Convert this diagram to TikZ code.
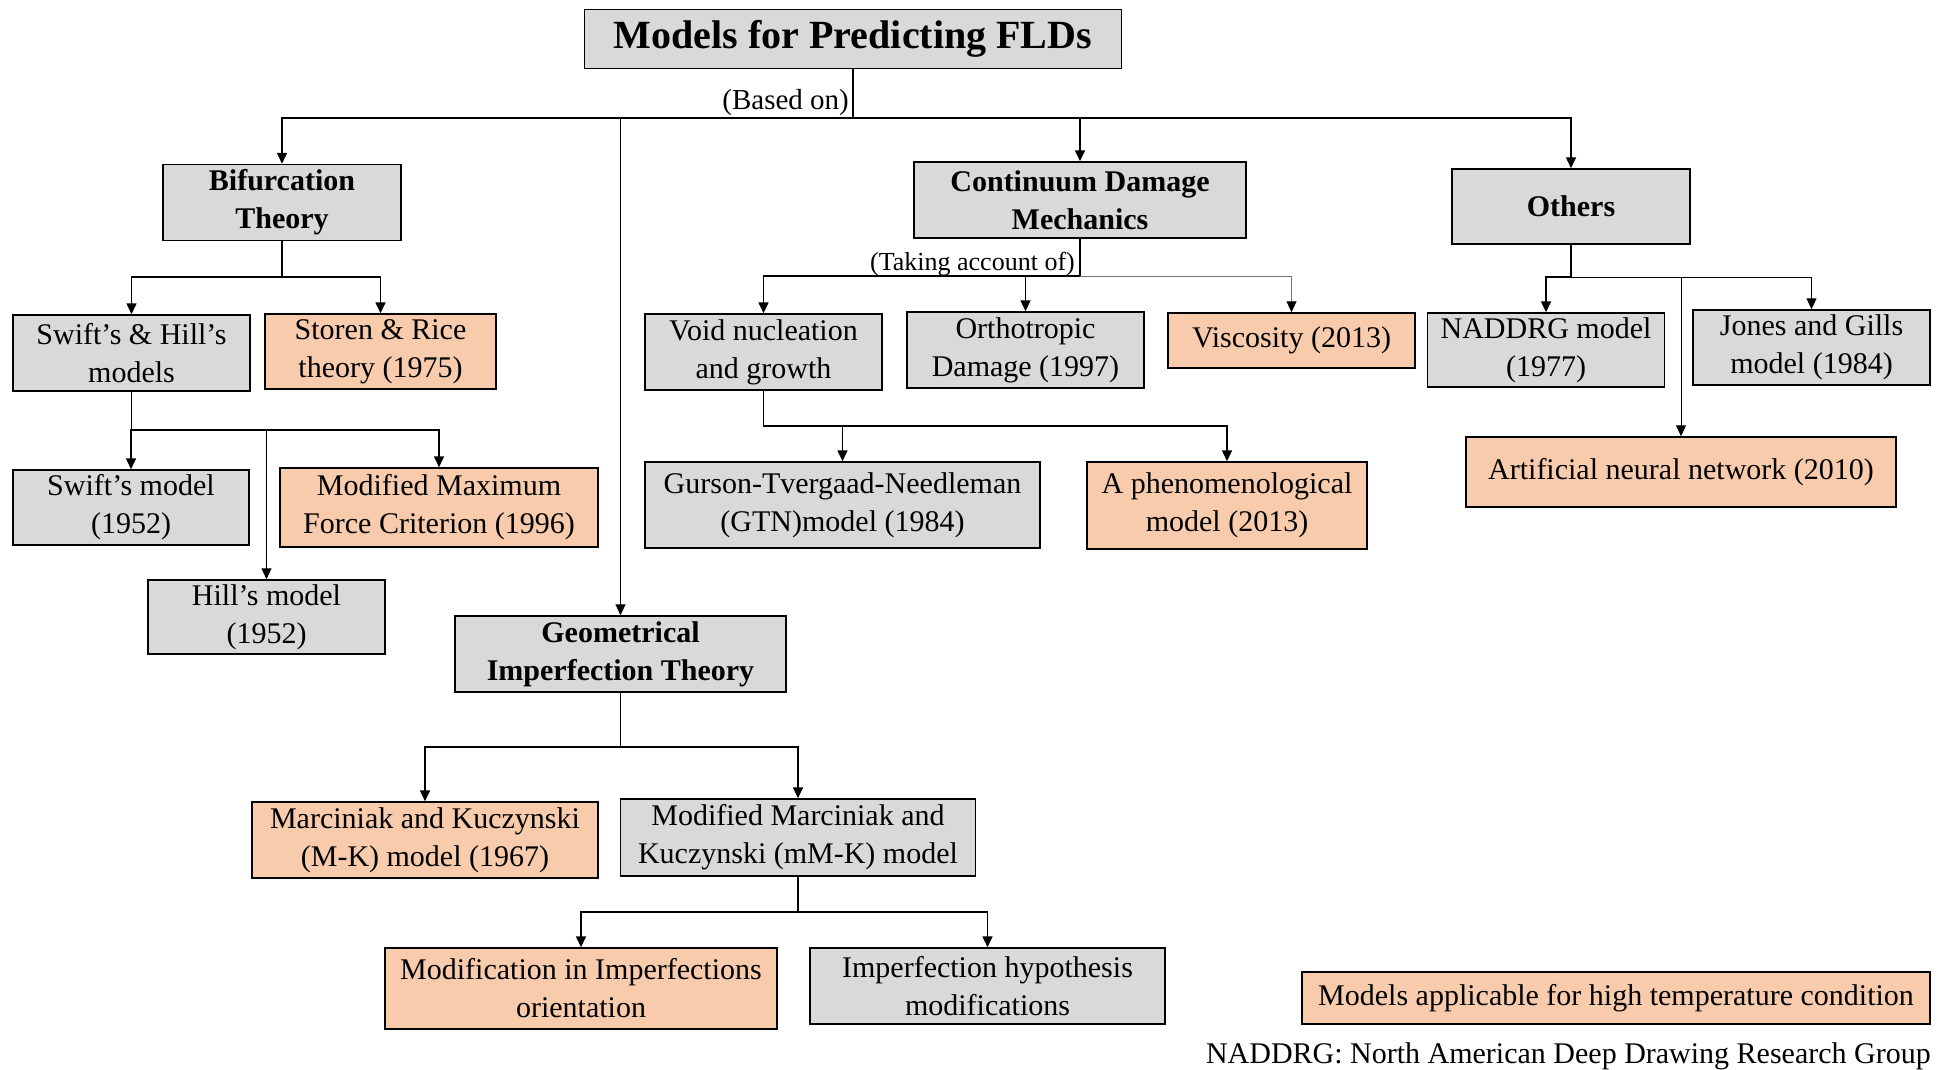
\documentclass[tikz,border=0pt]{standalone}
\usepackage{fontspec}
\setmainfont{Liberation Serif}
\usepackage{tikz}
\usetikzlibrary{arrows.meta}
\definecolor{boxgrey}{HTML}{D9D9D9}
\definecolor{boxsalmon}{HTML}{F8CBAD}
\tikzset{
  box/.style={draw=black, line width=1.5pt, align=center, inner sep=0pt,
    font=\fontsize{30}{38}\selectfont},
  greybox/.style={box, fill=boxgrey},
  hotbox/.style={box, fill=boxsalmon},
  size/.style 2 args={minimum width=#1, minimum height=#2},
  link/.style={line width=1.6pt, -{Triangle[length=11pt,width=10pt]}},
  thinlink/.style={link, line width=1pt},
  note/.style={inner sep=0pt, font=\fontsize{#1}{#1}\selectfont},
}
\begin{document}
\begin{tikzpicture}[x=1pt,y=-1pt]
\useasboundingbox (0,0) rectangle (1937,1070);
% top level
\node[greybox, size={537}{59}, font=\bfseries\fontsize{40}{44}\selectfont] (top) at (853,39) {Models for Predicting FLDs};
\node[greybox, size={238}{76}, font=\bfseries\fontsize{30}{38}\selectfont] (bif) at (282,202.5) {Bifurcation\\Theory};
\node[greybox, size={332}{76}, font=\bfseries\fontsize{30}{38}\selectfont] (cdm) at (1080,200) {Continuum Damage\\Mechanics};
\node[greybox, size={238}{75}, font=\bfseries\fontsize{30}{38}\selectfont] (oth) at (1571,206.5) {Others};
\node[greybox, size={331}{76}, font=\bfseries\fontsize{30}{38}\selectfont] (geo) at (620.5,654) {Geometrical\\Imperfection Theory};
% bifurcation branch
\node[greybox, size={237}{76}] (sh) at (131.5,353) {Swift’s \& Hill’s\\models};
\node[hotbox, size={231}{75}] (sr) at (380.5,351.5) {Storen \& Rice\\theory (1975)};
\node[greybox, size={236}{75}] (sm) at (131,507.5) {Swift’s model\\(1952)};
\node[hotbox, size={318}{79}] (mmfc) at (439,507.5) {Modified Maximum\\Force Criterion (1996)};
\node[greybox, size={237}{74}] (hm) at (266.5,617) {Hill’s model\\(1952)};
% damage branch
\node[greybox, size={237}{76}] (void) at (763.5,352) {Void nucleation\\and growth};
\node[greybox, size={237}{76}] (orth) at (1025.5,350) {Orthotropic\\Damage (1997)};
\node[hotbox, size={247}{55}] (visc) at (1291.5,340.5) {Viscosity (2013)};
\node[greybox, size={395}{86}] (gtn) at (842.5,505) {Gurson-Tvergaad-Needleman\\(GTN)model (1984)};
\node[hotbox, size={280}{87}] (phen) at (1227,505.5) {A phenomenological\\model (2013)};
% others branch
\node[greybox, size={237}{74}] (nad) at (1546,350) {NADDRG model\\(1977)};
\node[greybox, size={237}{75}] (jg) at (1811.5,347.5) {Jones and Gills\\model (1984)};
\node[hotbox, size={430}{70}] (ann) at (1681,472) {Artificial neural network (2010)};
% imperfection branch
\node[hotbox, size={346}{76}] (mk) at (425,840) {Marciniak and Kuczynski\\(M-K) model (1967)};
\node[greybox, size={355}{77}] (mmk) at (798,837.5) {Modified Marciniak and\\Kuczynski (mM-K) model};
\node[hotbox, size={392}{81}] (mio) at (581,988.5) {Modification in Imperfections\\orientation};
\node[greybox, size={355}{76}] (ihm) at (987.5,986) {Imperfection hypothesis\\modifications};
% legend and footnote
\node[hotbox, size={628}{52}] (legend) at (1616,998) {Models applicable for high temperature condition};
\node[note=30, anchor=base east] (foot) at (1931,1063) {NADDRG: North American Deep Drawing Research Group};

% bus points
\coordinate (busTop) at (853,118);
\coordinate (busBif) at (282,277);
\coordinate (busSh) at (131.5,430);
\coordinate (busCdm) at (1080,276);
\coordinate (busVoid) at (763.5,426);
\coordinate (busOth) at (1571,277);
\coordinate (busGeo) at (620.5,747);
\coordinate (busMmk) at (798,912);

\node[note=29, anchor=base east] (basedon) at (849,110) {(Based on)};
\node[note=26, anchor=base east] (taking) at (1075,270) {(Taking account of)};

\draw[link] (top.south) -- (busTop) -| (bif.north);
\draw[link] (top.south) -- (busTop) -| (cdm.north);
\draw[link] (top.south) -- (busTop) -| (oth.north);
\draw[thinlink] (busTop) -| (geo.north);

\draw[link] (bif.south) -- (busBif) -| (sh.north);
\draw[link] (bif.south) -- (busBif) -| (sr.north);
\draw[link] (sh.south) -- (busSh) -| (sm.north);
\draw[link] (sh.south) -- (busSh) -| (mmfc.north);
\draw[thinlink] (busSh) -| (hm.north);

\draw[link] (cdm.south) -- (busCdm) -| (void.north);
\draw[link] (cdm.south) -- (busCdm) -| (orth.north);
\draw[thinlink, draw=black!55, -{Triangle[length=11pt,width=10pt,color=black]}] (busCdm) -| (visc.north);
\draw[link] (void.south) -- (busVoid) -| (gtn.north);
\draw[link] (void.south) -- (busVoid) -| (phen.north);

\draw[link] (oth.south) -- (busOth) -| (nad.north);
\draw[thinlink] (busOth) -| (jg.north);
\draw[thinlink] (busOth) -| (ann.north);

\draw[link] (geo.south) -- (busGeo) -| (mk.north);
\draw[link] (geo.south) -- (busGeo) -| (mmk.north);
\draw[link] (mmk.south) -- (busMmk) -| (mio.north);
\draw[link] (mmk.south) -- (busMmk) -| (ihm.north);
\end{tikzpicture}
\end{document}
